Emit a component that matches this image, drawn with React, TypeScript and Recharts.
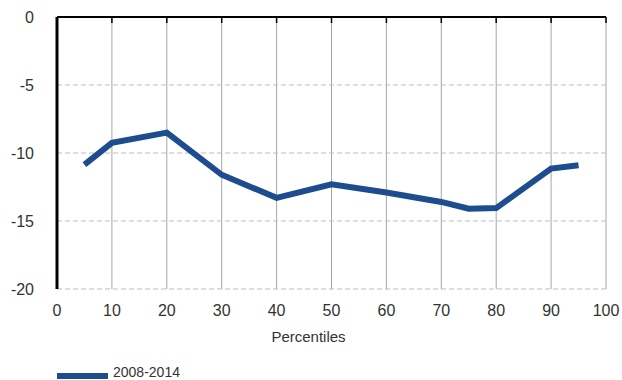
import { LineChart, Line, CartesianGrid, XAxis, YAxis, Legend, ReferenceLine } from "recharts";

const percentiles = [5, 10, 20, 30, 40, 50, 60, 70, 75, 80, 90, 95];
const change = [-10.85, -9.25, -8.5, -11.6, -13.3, -12.3, -12.9, -13.6, -14.1, -14.05, -11.15, -10.9];
const xTicks = [0, 10, 20, 30, 40, 50, 60, 70, 80, 90, 100];
const yTicks = [-20, -15, -10, -5, 0];
const seriesName = "2008-2014";

const data = percentiles.map((p, i) => ({ p, v: change[i] }));

const FONT = "'Liberation Sans', Arial, Helvetica, sans-serif";
const BLUE = "#1d4c8f";

const renderLegend = () => (
  <div style={{ position: "relative", height: 35, fontFamily: FONT }}>
    <div
      style={{ position: "absolute", left: 57, top: 28, width: 51, height: 6, background: BLUE }}
    />
    <span
      style={{ position: "absolute", left: 113, top: 19, fontSize: 14, color: "#333", lineHeight: "16px" }}
    >
      {seriesName}
    </span>
  </div>
);

export default function App() {
  return (
    <div style={{ position: "absolute", left: 0, top: 0, width: 622, height: 380, overflow: "hidden", background: "#fff" }}>
      <LineChart
        width={622}
        height={380}
        data={data}
        margin={{ top: 17, right: 16, left: 0, bottom: 0 }}
      >
        <CartesianGrid horizontal={false} stroke='#a6a6a6' />
        <CartesianGrid vertical={false} stroke='#bdbdbd' strokeDasharray='5 3' />
        <XAxis
          dataKey='p'
          type='number'
          domain={[0, 100]}
          ticks={xTicks}
          axisLine={false}
          tickLine={false}
          tickSize={6}
          tickMargin={10}
          height={56}
          tick={{ fill: "#333", fontSize: 16, fontFamily: FONT }}
          label={{ value: "Percentiles", position: "insideBottom", offset: 3, dx: -23, fill: "#333", fontSize: 15, fontFamily: FONT }}
        />
        <XAxis
          xAxisId='top'
          orientation='top'
          dataKey='p'
          type='number'
          domain={[0, 100]}
          ticks={xTicks}
          height={1}
          mirror
          tickSize={6}
          axisLine={false}
          tickLine={{ stroke: "#000", strokeWidth: 1.5 }}
          tickFormatter={() => ""}
        />
        <YAxis
          type='number'
          domain={[-20, 0]}
          ticks={yTicks}
          width={57}
          axisLine={{ stroke: "#000", strokeWidth: 3 }}
          tickLine={false}
          tickMargin={17}
          tick={{ fill: "#333", fontSize: 16, fontFamily: FONT }}
        />
        <ReferenceLine y={0} stroke='#000' strokeWidth={2} />
        <Legend verticalAlign='bottom' height={35} content={renderLegend} />
        <Line
          type='linear'
          dataKey='v'
          name={seriesName}
          stroke={BLUE}
          strokeWidth={6}
          dot={false}
          activeDot={false}
          isAnimationActive={false}
        />
      </LineChart>
    </div>
  );
}
